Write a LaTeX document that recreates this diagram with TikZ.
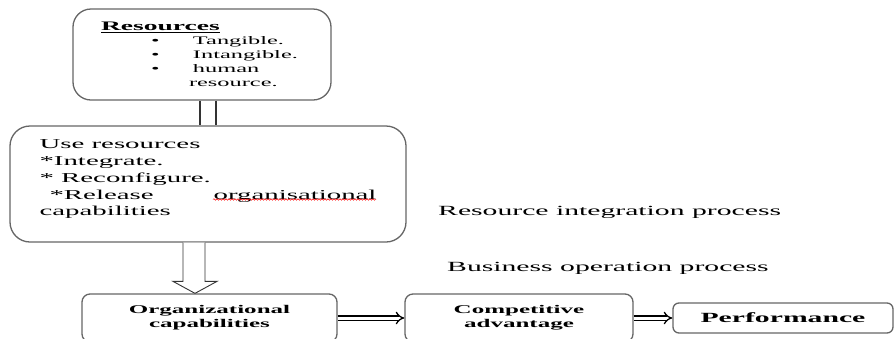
\documentclass[tikz,border=0pt]{standalone}
\usepackage{fontspec}
\setmainfont{Liberation Serif}[FakeStretch=2.12]
\usetikzlibrary{arrows.meta, calc, positioning, decorations.pathmorphing}
\setlength{\parindent}{0pt}
\newcommand\liftup[2]{\raisebox{#1}[\dimexpr\height-#1\relax][\dimexpr\depth+#1\relax]{#2}}
\tikzset{
    procbox/.style={draw=black!60, line width=1.3pt, rounded corners=#1, inner sep=0pt},
    procbox/.default={8pt},
    dblarrow/.style={double, double distance=3pt, line width=1.3pt, -{Implies}},
    blockarrow/.style={draw=black!80, line width=0.9pt, fill=white},
    linkline/.style={draw=black!80, line width=1.1pt},
    spellwave/.style={red, line width=0.5pt, decorate,
        decoration={snake, amplitude=0.8pt, segment length=3pt}},
    proclabel/.style={anchor=west, inner sep=0pt, font=\fontsize{14}{16}\selectfont}
}

\begin{document}
\begin{tikzpicture}[x=1pt, y=-1pt]
    \clip (0,0) rectangle (894,338);
    % the two upper boxes
    \node[procbox=18pt, minimum width=258pt, minimum height=91pt, align=left,
          text width=202pt, font=\fontsize{11.5}{14}\selectfont] (res) at (202,54.5)
        {{\fontsize{13}{14}\selectfont\underline{\textbf{Resources}}}\\
         \hspace*{50pt}\makebox[42pt][l]{\textbullet}Tangible.\\
         \hspace*{50pt}\makebox[42pt][l]{\textbullet}Intangible.\\
         \hspace*{50pt}\makebox[42pt][l]{\textbullet}human\\
         \hspace*{88pt}resource.};
    \node[procbox=20pt, minimum width=396pt, minimum height=116pt,
          font=\fontsize{13.6}{16.7}\selectfont] (use) at (208,184)
        {\liftup{2.5pt}{\begin{tabular}{@{}l@{}}
         Use resources\\
         {*}Integrate.\\
         {*} Reconfigure.\\
         \hspace*{10pt}*Release\hspace{60pt}organisational\\
         capabilities\end{tabular}}};
    \draw[spellwave] (213,199.5) -- (376,199.5);
    % bottom row
    \node[procbox, minimum width=255pt, minimum height=48pt, align=center,
          font=\fontsize{11.8}{14}\selectfont\bfseries] (org) at (209.5,318)
        {Organizational\\capabilities};
    \node[procbox, minimum width=228pt, minimum height=48pt, align=center,
          font=\fontsize{11.8}{14}\selectfont\bfseries] (comp) at (519,318)
        {Competitive\\advantage};
    \node[procbox=6pt, minimum width=220pt, minimum height=30pt,
          font=\fontsize{14}{16}\selectfont\bfseries] (perf) at (783,318)
        {Performance};
    % process labels
    \node[proclabel] (rip) at (438,212) {Resource integration process};
    \node[proclabel] (bop) at (447,268) {Business operation process};
    % links
    \draw[linkline] ($(res.south)+(-2,0)$) -- ($(use.north)+(-8,0)$);
    \draw[linkline] ($(res.south)+(14,0)$) -- ($(use.north)+(8,0)$);
    \draw[blockarrow] ($(use.south)+(-25,0)$) -- ($(org.north)+(-26.5,-12)$)
        -- ($(org.north)+(-36.5,-12)$) -- ($(org.north)+(-14.5,0)$)
        -- ($(org.north)+(7.5,-12)$) -- ($(org.north)+(-4.5,-12)$)
        -- ($(use.south)+(-3,0)$);
    \draw[dblarrow] (org.east) -- (comp.west);
    \draw[dblarrow] (comp.east) -- (perf.west);
\end{tikzpicture}
\end{document}
